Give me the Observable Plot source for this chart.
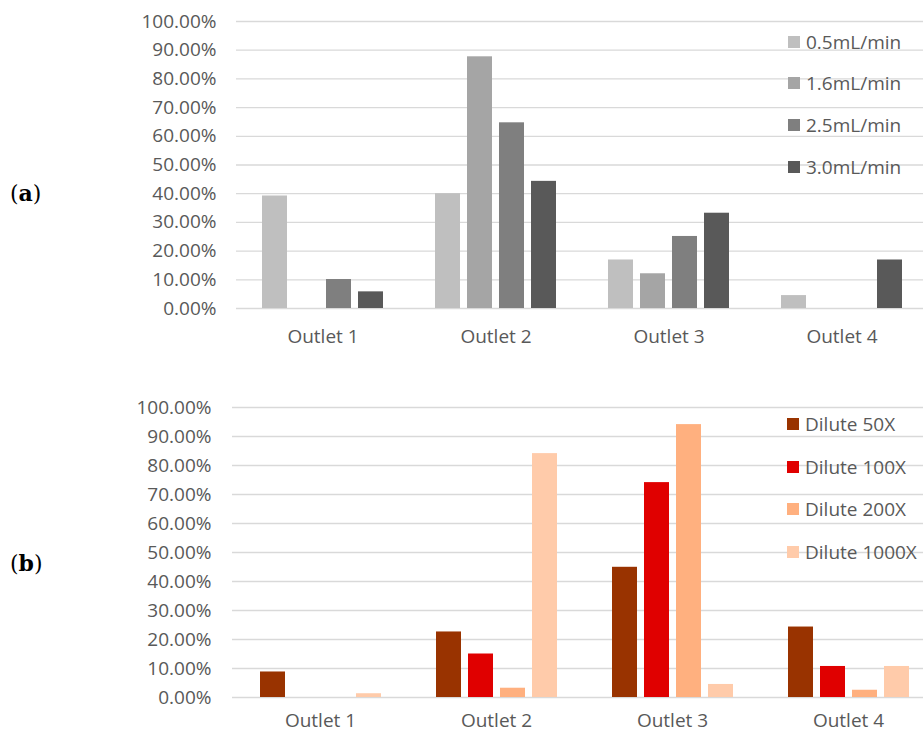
<!DOCTYPE html>
<html>
<head>
<meta charset="utf-8">
<script src="https://cdn.jsdelivr.net/npm/d3@7"></script>
<script src="https://cdn.jsdelivr.net/npm/@observablehq/plot@0.6"></script>
<style>
  html, body { margin: 0; padding: 0; background: #fff; overflow: hidden; }
  #page { position: relative; width: 923px; height: 733px; overflow: hidden; font-family: "Open Sans", sans-serif; }
  .panel { position: absolute; left: 0; }
  .tag { position: absolute; left: 10px; font-family: "DejaVu Serif", serif; font-size: 22px; color: #000; line-height: 1; transform: translateY(-50%); }
  .tag b { font-weight: bold; }
  .legend-row { position: absolute; display: flex; align-items: center; height: 30px; font-size: 19px; color: #595959; white-space: nowrap; }
  .legend-row .sw { width: 12px; height: 12px; margin-right: 6px; flex: none; }
</style>
</head>
<body>
<div id="page"></div>
<script>
// Categories along the x axis
const outlets = ["Outlet 1", "Outlet 2", "Outlet 3", "Outlet 4"];
const yTicks = [0, 10, 20, 30, 40, 50, 60, 70, 80, 90, 100];

// (a) share per outlet for each flow rate (%)
const flowRates = ["0.5mL/min", "1.6mL/min", "2.5mL/min", "3.0mL/min"];
const flow05 = [39.2, 40.0, 16.9, 4.5];
const flow16 = [0, 87.7, 12.1, 0];
const flow25 = [10.1, 64.7, 25.1, 0];
const flow30 = [5.8, 44.3, 33.2, 16.9];
const flowColors = ["#bfbfbf", "#a5a5a5", "#7f7f7f", "#595959"];

// (b) share per outlet for each dilution (%)
const dilutions = ["Dilute 50X", "Dilute 100X", "Dilute 200X", "Dilute 1000X"];
const dilute50 = [8.8, 22.6, 44.9, 24.3];
const dilute100 = [0, 15.0, 74.1, 10.7];
const dilute200 = [0, 3.2, 94.1, 2.5];
const dilute1000 = [1.3, 84.1, 4.5, 10.7];
const diluteColors = ["#993300", "#e00000", "#ffb07f", "#ffcbaa"];

function toRows(series, values) {
  return series.flatMap((s, i) => outlets.map((o, j) => ({outlet: o, series: s, value: values[i][j]})));
}

function groupedBars(opts) {
  const rows = toRows(opts.series, opts.values);
  return Plot.plot({
    width: opts.width,
    height: opts.height,
    marginLeft: opts.marginLeft,
    marginRight: 0,
    marginTop: opts.marginTop,
    marginBottom: opts.marginBottom,
    style: {fontFamily: "'Open Sans', sans-serif", fontSize: "19px", color: "#595959", background: "transparent", maxWidth: "none"},
    fx: {domain: outlets, padding: 0, label: null, axis: "bottom", tickSize: 0, tickPadding: opts.labelPadding},
    x: {domain: opts.series, axis: null, paddingInner: opts.paddingInner, paddingOuter: opts.paddingOuter},
    y: {domain: [0, 100], ticks: yTicks, tickFormat: d => d.toFixed(2) + "%", label: null, tickSize: 0, tickPadding: opts.tickPadding},
    color: {domain: opts.series, range: opts.colors},
    marks: [
      Plot.gridY(yTicks, {stroke: "#d9d9d9", strokeOpacity: 1, strokeWidth: 1.3}),
      Plot.barY(rows, {fx: "outlet", x: "series", y: "value", fill: "series"})
    ]
  });
}

function addLegend(page, series, colors, left, firstCenter, spacing) {
  series.forEach((s, i) => {
    const row = document.createElement("div");
    row.className = "legend-row";
    row.style.left = left + "px";
    row.style.top = (firstCenter + i * spacing - 15) + "px";
    const sw = document.createElement("span");
    sw.className = "sw";
    sw.style.background = colors[i];
    const label = document.createElement("span");
    label.textContent = s;
    row.append(sw, label);
    page.append(row);
  });
}

function addTag(page, letter, centerY) {
  const t = document.createElement("div");
  t.className = "tag";
  t.style.top = centerY + "px";
  t.innerHTML = "(<b>" + letter + "</b>)";
  page.append(t);
}

const page = document.getElementById("page");

const flowChart = groupedBars({
  series: flowRates,
  values: [flow05, flow16, flow25, flow30],
  colors: flowColors,
  width: 929, height: 350,
  marginLeft: 235, marginTop: 21, marginBottom: 42,
  paddingInner: 0.226, paddingOuter: 0.8, tickPadding: 20, labelPadding: 21
});
flowChart.classList.add("panel");
flowChart.style.position = "absolute";
flowChart.style.top = "0px";
page.append(flowChart);

const diluteChart = groupedBars({
  series: dilutions,
  values: [dilute50, dilute100, dilute200, dilute1000],
  colors: diluteColors,
  width: 937, height: 353,
  marginLeft: 231, marginTop: 27, marginBottom: 36,
  paddingInner: 0.22, paddingOuter: 0.83, tickPadding: 21, labelPadding: 16
});
diluteChart.classList.add("panel");
diluteChart.style.position = "absolute";
diluteChart.style.top = "380px";
page.append(diluteChart);

addLegend(page, flowRates, flowColors, 788, 41.7, 41.7);
addLegend(page, dilutions, diluteColors, 787, 424.3, 42.4);
addTag(page, "a", 193);
addTag(page, "b", 563);
</script>
</body>
</html>
